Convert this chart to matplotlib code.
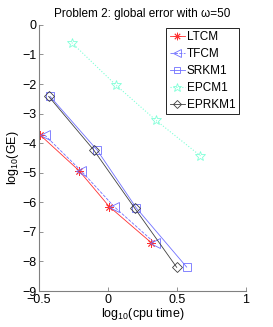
import matplotlib
matplotlib.use("Agg")
import matplotlib.pyplot as plt

plt.rcParams['font.family'] = ['Liberation Sans', 'DejaVu Sans']
plt.rcParams['mathtext.fontset'] = 'custom'
plt.rcParams['mathtext.rm'] = 'Liberation Sans'
plt.rcParams['mathtext.it'] = 'Liberation Sans'

series_names = ["LTCM", "TFCM", "SRKM1", "EPCM1", "EPRKM1"]
ltcm_x = [-0.493, -0.21, 0.010, 0.312]
ltcm_y = [-3.72, -4.93, -6.15, -7.36]
tfcm_x = [-0.46, -0.196, 0.045, 0.34]
tfcm_y = [-3.72, -4.93, -6.15, -7.38]
srkm1_x = [-0.42, -0.078, 0.205, 0.57]
srkm1_y = [-2.42, -4.24, -6.19, -8.19]
epcm1_x = [-0.263, 0.058, 0.348, 0.67]
epcm1_y = [-0.60, -2.04, -3.23, -4.43]
eprkm1_x = [-0.43, -0.104, 0.192, 0.498]
eprkm1_y = [-2.42, -4.23, -6.19, -8.20]

x_ticks = [-0.5, 0, 0.5, 1]
x_tick_labels = ["\u22120.5", "0", "0.5", "1"]
y_ticks = [0, -1, -2, -3, -4, -5, -6, -7, -8, -9]
y_tick_labels = ["0"] + ["\u2212%d" % k for k in range(1, 10)]

fig = plt.figure(figsize=(2.73, 3.27), dpi=100)
ax = fig.add_axes([0.143, 0.110, 0.758, 0.814])

red = '#ff3030'
blue = '#7070ff'
cyan = '#80ffd8'
dark = '#404040'
lw = 0.6
ms = 6

ax.plot(ltcm_x, ltcm_y, color=red, ls='-', lw=lw, marker=(8, 2, 0), ms=ms, mew=0.6, label=series_names[0])
ax.plot(tfcm_x, tfcm_y, color=blue, ls='--', lw=lw, marker='<', ms=ms+1, mfc='none', mew=0.6, label=series_names[1])
ax.plot(srkm1_x, srkm1_y, color=blue, ls='-', lw=lw, marker='s', ms=ms-0.5, mfc='none', mew=0.6, label=series_names[2])
ax.plot(epcm1_x, epcm1_y, color=cyan, ls=':', lw=lw+0.2, marker='*', ms=ms+1, mfc='none', mew=0.6, label=series_names[3])
ax.plot(eprkm1_x, eprkm1_y, color=dark, ls='-', lw=lw, marker='D', ms=ms-1, mfc='none', mew=0.6, label=series_names[4])

ax.set_xlim(-0.5, 1)
ax.set_ylim(-9, 0)
ax.set_xticks(x_ticks)
ax.set_xticklabels(x_tick_labels)
ax.set_yticks(y_ticks)
ax.set_yticklabels(y_tick_labels)
for s in ['top', 'right']:
    ax.spines[s].set_visible(False)
for s in ['left', 'bottom']:
    ax.spines[s].set_color('#808080')
    ax.spines[s].set_linewidth(0.8)
ax.tick_params(direction='in', length=3, width=0.6, color='#808080', labelsize=9, pad=2)

ax.set_title("Problem 2: global error with \u03c9=50", fontsize=8.5, pad=6)
ax.set_xlabel("log$_{10}$(cpu time)", fontsize=9, labelpad=0)
ax.set_ylabel("log$_{10}$(GE)", fontsize=9, labelpad=1)

leg = ax.legend(loc='upper right', bbox_to_anchor=(0.966, 0.99), fontsize=8.5, frameon=True,
                fancybox=False, edgecolor='black', framealpha=1, handlelength=1.3,
                handletextpad=0.15, borderpad=0.3, labelspacing=0.42, borderaxespad=0,
                markerscale=0.9)
leg.get_frame().set_linewidth(0.6)

fig.savefig("out.png", dpi=100)
